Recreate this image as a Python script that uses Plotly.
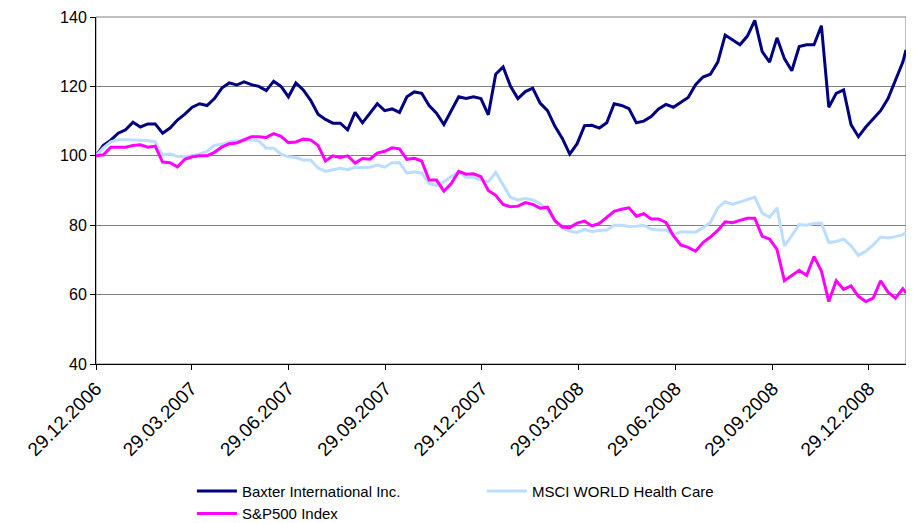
import pandas as pd
import plotly.graph_objects as go

# Weekly observation dates (Fridays from 29.12.2006) plus the final day
dates = list(pd.date_range("2006-12-29", periods=110, freq="7D")) + [pd.Timestamp("2009-02-02")]

baxter = [
    100, 103, 104.5, 106.5, 107.5, 109.7, 108.3, 109.2, 109.2, 106.5,
    108, 110.3, 112, 114, 115, 114.5, 116.5, 119.5, 121, 120.4,
    121.3, 120.5, 120, 118.8, 121.5, 120, 117, 121, 119, 116,
    112, 110.5, 109.4, 109.4, 107.5, 112.5, 109.5, 112.3, 115, 113,
    113.5, 112.5, 117, 118.4, 118, 114.5, 112.3, 109, 113, 117,
    116.5, 117, 116.5, 111.8, 123.5, 125.6, 120, 116.5, 118.5, 119.5,
    115.2, 113, 108.5, 105, 100.5, 103.5, 108.7, 108.8, 108, 109.5,
    115, 114.5, 113.6, 109.5, 110, 111.3, 113.5, 114.8, 114, 115.3,
    116.8, 120.5, 122.7, 123.5, 127, 134.8, 133.5, 132, 134.5, 139,
    130, 127, 134, 128, 124.5, 131.5, 132, 132, 137.5, 114,
    118, 119, 109, 105.5, 108.3, 110.5, 113, 116.5, 122, 127,
    130.5,
]

msci = [
    100, 102.3, 104, 104.6, 104.6, 104.5, 104.3, 104.4, 104, 100.2,
    100.5, 99.8, 99.8, 100, 100.5, 101.3, 103, 103.3, 104, 104.3,
    104.3, 104.6, 104.3, 102.2, 102.2, 100.5, 99.7, 99.5, 98.8, 98.8,
    96.5, 95.5, 96, 96.4, 96, 96.7, 96.6, 96.7, 97.3, 96.7,
    98, 98, 95, 95.4, 95, 92, 91.5, 92.5, 94, 95.3,
    93.8, 93.8, 93, 92.5, 95.2, 91.5, 88, 87.3, 87.7, 87.3,
    86.2, 84.3, 81.4, 79.2, 78.3, 77.9, 78.8, 78.1, 78.5, 78.6,
    80, 80, 79.6, 79.7, 80, 78.9, 78.6, 78.6, 77.2, 78.1,
    78, 78, 79.3, 80.8, 85, 86.8, 86, 86.7, 87.2, 88.1,
    83.5, 82.3, 85, 74, 77, 80.2, 80, 80.5, 80.6, 75,
    75.3, 76, 74.1, 71.3, 72.5, 74.3, 76.6, 76.3, 76.7, 77.3,
    78,
]

sp500 = [
    100, 100.3, 102.5, 102.5, 102.5, 103, 103.2, 102.5, 102.8, 98.2,
    98, 96.8, 99, 99.7, 100, 100, 101, 102.5, 103.5, 103.7,
    104.7, 105.5, 105.5, 105.3, 106.4, 105.6, 103.8, 104, 104.8, 104.6,
    103, 98.5, 100, 99.5, 100, 97.9, 99.2, 99, 100.8, 101.3,
    102.3, 102, 99, 99.3, 98.5, 93, 93, 89.8, 92, 95.5,
    94.7, 94.8, 94, 90, 88.6, 86, 85.3, 85.5, 86.5, 86,
    84.9, 85.2, 81.3, 79.5, 79.3, 80.6, 81.2, 79.8, 80.5, 82.3,
    84, 84.6, 85, 82.6, 83.3, 81.8, 81.8, 80.8, 77, 74.3,
    73.6, 72.5, 75, 76.6, 78.5, 81, 80.7, 81.4, 82, 82,
    76.8, 76, 73, 64, 65.5, 67, 65.5, 71, 66.8, 58,
    64, 61.5, 62.5, 59.5, 58, 59, 64, 60.7, 59, 61.7,
    60.5,
]

tick_dates = ["2006-12-29", "2007-03-29", "2007-06-29", "2007-09-29", "2007-12-29",
              "2008-03-29", "2008-06-29", "2008-09-29", "2008-12-29"]
y_ticks = [40, 60, 80, 100, 120, 140]

series = [
    ("Baxter International Inc.", baxter, "#000080"),
    ("MSCI WORLD Health Care", msci, "#BBDDFF"),
    ("S&P500 Index", sp500, "#FF00FF"),
]

fig = go.Figure()
for name, vals, color in series:
    fig.add_trace(go.Scatter(x=dates, y=vals, mode="lines", name=name,
                             line=dict(color=color, width=3)))

font_family = "Liberation Sans, Arial, sans-serif"
# The page body adds an 8 px margin, so the figure is sized to fit the 914x523 window.
fig.update_layout(
    width=906, height=515,
    margin=dict(l=88, r=8, t=9, b=159),
    paper_bgcolor="white", plot_bgcolor="white",
    font=dict(family=font_family, size=15, color="black"),
    showlegend=True,
    legend=dict(orientation="h", xref="container", yref="container",
                x=0.203, xanchor="left", y=0.0935, yanchor="top",
                font=dict(size=15, family=font_family), entrywidth=235,
                itemwidth=40, tracegroupgap=0, bgcolor="rgba(0,0,0,0)"),
    shapes=[dict(type="rect", xref="paper", yref="paper", x0=0, y0=0, x1=1, y1=1,
                 line=dict(color="#808080", width=1), layer="below")],
)
fig.update_xaxes(
    type="date", range=["2006-12-29", "2009-02-02"],
    tickvals=tick_dates, tickformat="%d.%m.%Y", tickangle=-45,
    ticks="outside", ticklen=5, tickcolor="black",
    showline=True, linecolor="black", linewidth=1,
    showgrid=False, zeroline=False, tickfont=dict(size=19), automargin=False,
)
fig.update_yaxes(
    range=[40, 140], tickvals=y_ticks,
    ticks="outside", ticklen=5, tickcolor="black",
    showline=True, linecolor="black", linewidth=1,
    showgrid=True, gridcolor="#808080", gridwidth=1, zeroline=False,
    tickfont=dict(size=16), automargin=False,
)
fig.write_html("out.html")
